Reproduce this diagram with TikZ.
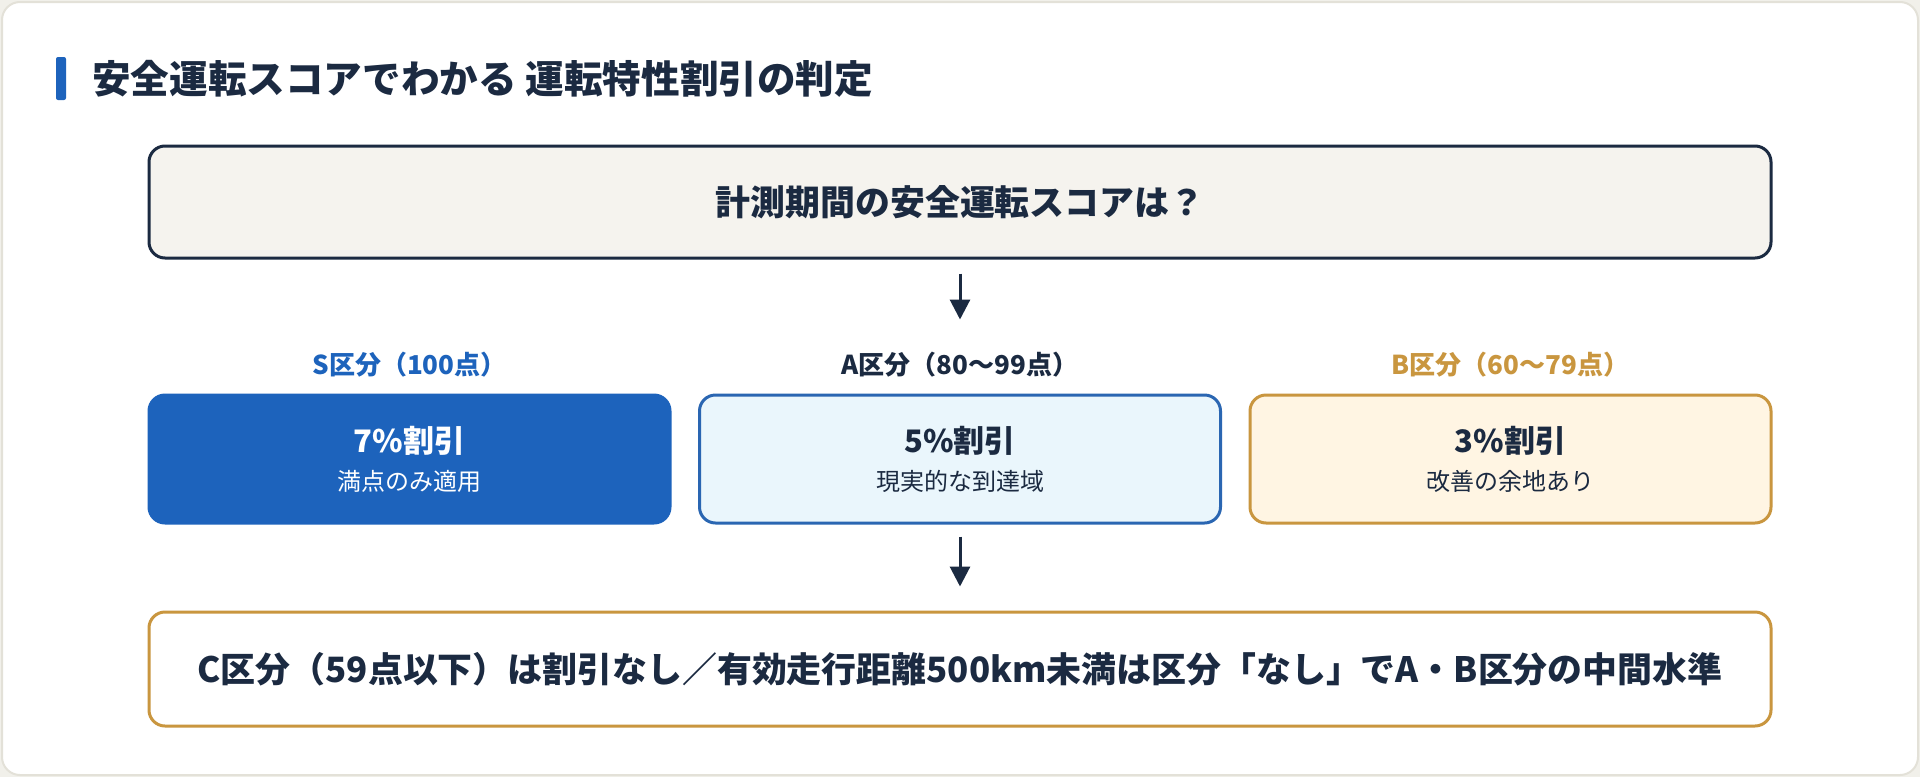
\documentclass[tikz,border=0pt]{standalone}
\usepackage{fontspec}
\setmainfont{Noto Sans CJK JP}
\usetikzlibrary{positioning,arrows.meta}

\definecolor{navy}{HTML}{1B2A41}
\definecolor{sblue}{HTML}{1D63BC}
\definecolor{alight}{HTML}{EAF6FC}
\definecolor{aline}{HTML}{2A66B2}
\definecolor{bgold}{HTML}{C9963F}
\definecolor{blight}{HTML}{FFF5E3}
\definecolor{qfill}{HTML}{F5F3EE}
\definecolor{cardline}{HTML}{E3E1D8}
\definecolor{pagebg}{HTML}{F1F0EA}

\newcommand\fs[2]{\fontsize{#1}{#2}\selectfont}

\tikzset{
  panel/.style={rectangle, rounded corners=16pt, line width=3pt, minimum width=1622pt, align=center, text=navy, font=\fs{34.9}{40}\bfseries},
  grade/.style={rectangle, rounded corners=16pt, line width=3pt, minimum width=521pt, minimum height=128pt, align=center, font=\fs{31}{38}\bfseries},
  tag/.style={inner sep=0pt, font=\fs{26}{30}\bfseries},
  flow/.style={line width=3pt, navy, -{Triangle[width=20pt,length=20pt]}},
}

\begin{document}
\begin{tikzpicture}[x=1pt, y=-1pt]
\useasboundingbox (0,0) rectangle (1920,777);
%card
\fill[pagebg] (0,0) rectangle (1920,777);
\draw[cardline, fill=white, line width=2pt, rounded corners=18pt] (2,2) rectangle (1918,775);

%title
\fill[sblue, rounded corners=2pt] (56,57) rectangle (66,100);
\node[anchor=west, inner sep=0pt, text=navy, font=\fs{38.6}{44}\bfseries] (title) at (92,79) {安全運転スコアでわかる 運転特性割引の判定};

%question
\node[panel, draw=navy, fill=qfill, minimum height=112pt] (q) at (960,202) {計測期間の安全運転スコアは？};

%grades
\foreach \Name/\X/\Tag/\Rate/\Note/\Fill/\Line/\Ink/\TagInk in {%
  S/409.5/{S区分（100点）}/{7\%割引}/{満点のみ適用}/sblue/sblue/white/sblue,
  A/960/{A区分（80〜99点）}/{5\%割引}/{現実的な到達域}/alight/aline/navy/navy,
  B/1510.5/{B区分（60〜79点）}/{3\%割引}/{改善の余地あり}/blight/bgold/navy/bgold}{
  \node[grade, fill=\Fill, draw=\Line, text=\Ink] (\Name) at (\X,459) {\Rate\\{\fs{24}{38}\mdseries\Note}};
  \node[tag, text=\TagInk, above=16pt of \Name] (\Name-tag) {\Tag};
}

%note
\node[panel, draw=bgold, fill=white, minimum height=114pt] (c) at (960,669) {C区分（59点以下）は割引なし／有効走行距離500km未満は区分「なし」でA・B区分の中間水準};

%arrows
\draw[flow] ([yshift=-14pt]q.south) -- ([yshift=74pt]A.north);
\draw[flow] ([yshift=-12pt]A.south) -- ([yshift=24pt]c.north);
\end{tikzpicture}
\end{document}
